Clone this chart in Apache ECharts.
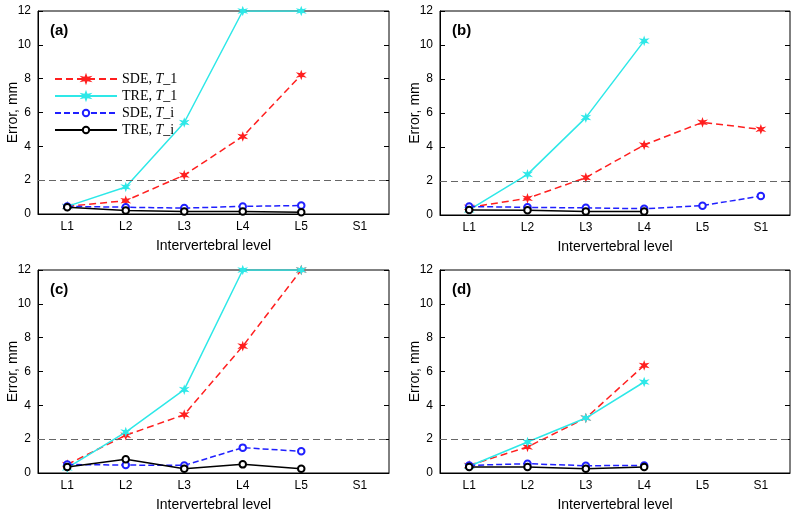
<!DOCTYPE html>
<html><head><meta charset="utf-8">
<script src="https://cdn.jsdelivr.net/npm/echarts@6/dist/echarts.min.js"></script>
<style>html,body{margin:0;padding:0;background:#fff}#c{width:800px;height:516px}</style>
</head><body><div id="c"></div>
<script>
const categories = ['L1','L2','L3','L4','L5','S1'];
const panelLabels = ['(a)','(b)','(c)','(d)'];
const seriesNames = ['SDE, T_1','TRE, T_1','SDE, T_i','TRE, T_i'];
const threshold = 2;
// panel (a)
const a_sdeT1 = [0.45, 0.79, 2.3, 4.58, 8.22, null];
const a_treT1 = [0.45, 1.6, 5.41, 12, 12, null];
const a_sdeTi = [0.45, 0.4, 0.35, 0.45, 0.5, null];
const a_treTi = [0.4, 0.2, 0.15, 0.15, 0.1, null];
// panel (b)
const b_sdeT1 = [0.45, 0.98, 2.2, 4.12, 5.45, 5.04];
const b_treT1 = [0.3, 2.39, 5.73, 10.24, null, null];
const b_sdeTi = [0.5, 0.45, 0.42, 0.37, 0.55, 1.12];
const b_treTi = [0.3, 0.28, 0.2, 0.2, null, null];
// panel (c)
const c_sdeT1 = [0.5, 2.23, 3.45, 7.5, 12, null];
const c_treT1 = [0.3, 2.42, 4.93, 12, 12, null];
const c_sdeTi = [0.5, 0.47, 0.45, 1.5, 1.28, null];
const c_treTi = [0.35, 0.81, 0.25, 0.51, 0.25, null];
// panel (d)
const d_sdeT1 = [0.45, 1.54, 3.25, 6.36, null, null];
const d_treT1 = [0.4, 1.83, 3.25, 5.38, null, null];
const d_sdeTi = [0.45, 0.55, 0.43, 0.45, null, null];
const d_treTi = [0.35, 0.35, 0.25, 0.35, null, null];

const panels = [
  [a_sdeT1, a_treT1, a_sdeTi, a_treTi],
  [b_sdeT1, b_treT1, b_sdeTi, b_treTi],
  [c_sdeT1, c_treT1, c_sdeTi, c_treTi],
  [d_sdeT1, d_treT1, d_sdeTi, d_treTi]
];

const grids = [
  {left: 38, top: 11, width: 351, height: 203},
  {left: 440, top: 11, width: 350, height: 204},
  {left: 38, top: 270, width: 351, height: 203},
  {left: 440, top: 270, width: 350, height: 203}
];

const star = 'path://M0,-10 L2,-3.46 L8.66,-5 L4,0 L8.66,5 L2,3.46 L0,10 L-2,3.46 L-8.66,5 L-4,0 L-8.66,-5 L-2,-3.46 Z';
const styles = [
  {color: '#ff1f1f', type: [7,4], symbol: star, size: 7},
  {color: '#2ee8e8', type: 'solid', symbol: star, size: 7},
  {color: '#2020ff', type: [6,3], symbol: 'emptyCircle', size: 6.5},
  {color: '#000000', type: 'solid', symbol: 'emptyCircle', size: 6.5}
];

const font = 'Arial, "Liberation Sans", sans-serif';
const xAxis = [], yAxis = [], series = [], graphic = [];
grids.forEach((g, i) => {
  g.show = true; g.borderColor = '#000'; g.borderWidth = 1; g.backgroundColor = 'transparent';
  xAxis.push({type: 'category', gridIndex: i, data: categories, boundaryGap: true,
    axisLine: {lineStyle: {color: '#000'}}, axisTick: {inside: true, alignWithLabel: true, length: 5, lineStyle: {color: '#000'}},
    axisLabel: {color: '#000', fontSize: 12, fontFamily: font, margin: 7},
    name: 'Intervertebral level', nameLocation: 'middle', nameGap: 25, nameMoveOverlap: false,
    nameTextStyle: {color: '#000', fontSize: 14, fontFamily: font}});
  xAxis.push({type: 'category', gridIndex: i, data: categories, position: 'top', boundaryGap: true,
    axisLine: {show: false}, axisTick: {inside: true, alignWithLabel: true, length: 5, lineStyle: {color: '#000'}},
    axisLabel: {show: false}});
  yAxis.push({type: 'value', gridIndex: i, min: 0, max: 12, interval: 2,
    axisLine: {show: true, lineStyle: {color: '#000'}}, axisTick: {show: true, inside: true, length: 5, lineStyle: {color: '#000'}},
    splitLine: {show: false},
    axisLabel: {color: '#000', fontSize: 12, fontFamily: font, margin: 7},
    name: 'Error, mm', nameLocation: 'middle', nameGap: 18, nameRotate: 90, nameMoveOverlap: false,
    nameTextStyle: {color: '#000', fontSize: 14, fontFamily: font}});
  yAxis.push({type: 'value', gridIndex: i, min: 0, max: 12, interval: 2, position: 'right',
    axisLine: {show: false}, axisTick: {show: true, inside: true, length: 5, lineStyle: {color: '#000'}},
    splitLine: {show: false}, axisLabel: {show: false}});
  panels[i].forEach((data, k) => {
    const s = styles[k];
    const ser = {type: 'line', name: seriesNames[k], xAxisIndex: 2*i, yAxisIndex: 2*i, data: data,
      symbol: s.symbol, symbolSize: s.size, showAllSymbol: true, connectNulls: false, clip: true,
      lineStyle: {color: s.color, width: 1.5, type: s.type},
      itemStyle: {color: s.color, borderColor: s.color, borderWidth: 1.2},
      emphasis: {disabled: true}, animation: false, z: 3 + k};
    if (k === 0) {
      ser.markLine = {silent: true, symbol: 'none', label: {show: false},
        lineStyle: {color: '#666', type: [7,4], width: 1}, data: [{yAxis: threshold}], animation: false};
    }
    series.push(ser);
  });
  graphic.push({type: 'text', left: g.left + 12, top: g.top + 12,
    style: {text: panelLabels[i], fontSize: 15, fontWeight: 'bold', fontFamily: font, fill: '#000'}});
});

const chart = echarts.init(document.getElementById('c'), null, {renderer: 'canvas'});
chart.setOption({
  animation: false,
  backgroundColor: '#fff',
  grid: grids, xAxis: xAxis, yAxis: yAxis, series: series, graphic: graphic,
  legend: {show: true, orient: 'vertical', left: 49, top: 67, itemWidth: 62, itemHeight: 8, itemGap: 3,
    selectedMode: false, data: seriesNames,
    formatter: function (n) { const p = n.split(', T'); return p[0] + ', {i|T}' + p[1]; },
    textStyle: {fontFamily: '"Liberation Serif", "Times New Roman", serif', fontSize: 14, color: '#000',
      rich: {i: {fontStyle: 'italic', fontFamily: '"Liberation Serif", serif', fontSize: 14, color: '#000'}}}}
});
</script></body></html>
